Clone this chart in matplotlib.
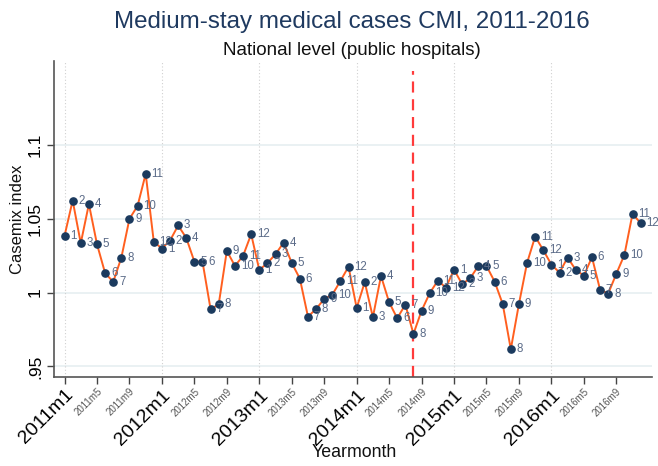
import matplotlib
matplotlib.use("Agg")
import matplotlib.pyplot as plt
import numpy as np

plt.rcParams['font.family'] = ['Liberation Sans', 'DejaVu Sans']

# Monthly CMI values, 2011m1 .. 2016m12
cmi_2011 = [1.0385, 1.0624, 1.0335, 1.0600, 1.0328, 1.0132, 1.0073, 1.0237, 1.0500, 1.0588, 1.0805, 1.0344]
cmi_2012 = [1.0299, 1.0353, 1.0455, 1.0371, 1.0210, 1.0210, 0.9887, 0.9921, 1.0283, 1.0181, 1.0249, 1.0396]
cmi_2013 = [1.0154, 1.0200, 1.0260, 1.0339, 1.0201, 1.0095, 0.9837, 0.9889, 0.9957, 0.9986, 1.0079, 1.0176]
cmi_2014 = [0.9896, 1.0071, 0.9833, 1.0113, 0.9935, 0.9826, 0.9919, 0.9720, 0.9877, 0.9996, 1.0081, 1.0034]
cmi_2015 = [1.0156, 1.0057, 1.0098, 1.0181, 1.0181, 1.0075, 0.9923, 0.9616, 0.9923, 1.0201, 1.0380, 1.0288]
cmi_2016 = [1.0190, 1.0136, 1.0238, 1.0154, 1.0115, 1.0240, 1.0020, 0.9993, 1.0127, 1.0256, 1.0534, 1.0471]
years = [2011, 2012, 2013, 2014, 2015, 2016]
months = list(range(1, 13))

values = cmi_2011 + cmi_2012 + cmi_2013 + cmi_2014 + cmi_2015 + cmi_2016
month_labels = [str(m) for y in years for m in months]
x = np.arange(len(values))

major_labels = ["2011m1", "2012m1", "2013m1", "2014m1", "2015m1", "2016m1"]
minor_labels = ["2011m5", "2011m9", "2012m5", "2012m9", "2013m5", "2013m9",
                "2014m5", "2014m9", "2015m5", "2015m9", "2016m5", "2016m9"]
ytick_vals = [0.95, 1.0, 1.05, 1.1]
ytick_labels = [".95", "1", "1.05", "1.1"]
reform_month = 43  # 2014m8

fig = plt.figure(figsize=(6.58, 4.66), dpi=100)
ax = fig.add_axes([54/658, 1-376.7/466, (652-54)/658, (376.7-61)/466])

ax.set_xlim(-1.3, 72.4)
ax.set_ylim(0.943, 1.157)

# gridlines
for yv in ytick_vals:
    ax.axhline(yv, color='#e6eff1', lw=1.2, zorder=0)
for xi in range(0, 72, 12):
    ax.axvline(xi, color='#d0d0d0', lw=0.8, ls=(0, (1, 2)), zorder=0)

ax.plot(x, values, color='#ff5f1f', lw=1.4, zorder=2)
ax.plot(x, values, 'o', color='#1b3a5e', ms=5.2, zorder=3)
for xi, yi, lab in zip(x, values, month_labels):
    ax.annotate(lab, (xi, yi), xytext=(4.2, 0), textcoords='offset points',
                ha='left', va='center', fontsize=8.3, color='#5b6b88', zorder=4)

ax.vlines(reform_month, 0.943, 1.1505, colors='#ff3b3b', linestyles=(0, (5, 3)), lw=1.6, zorder=1)

ax.set_yticks(ytick_vals)
ax.set_yticklabels(ytick_labels, rotation=90, va='center', fontsize=12.5)
ax.tick_params(axis='y', length=5, width=1, color='#444444', pad=3)

major_pos = [i for i in range(0, 72, 12)]
minor_pos = [i for i in range(72) if i % 12 in (4, 8)]
ax.set_xticks(major_pos)
ax.set_xticklabels(major_labels, rotation=45, ha='right', rotation_mode='anchor', fontsize=14)
ax.set_xticks(minor_pos, minor=True)
ax.set_xticklabels(minor_labels, minor=True, rotation=45, ha='right', rotation_mode='anchor',
                   fontsize=7, color='#555555')
ax.tick_params(axis='x', which='both', length=5, width=1, color='#444444', pad=2)

for s in ['top', 'right']:
    ax.spines[s].set_visible(False)
for s in ['left', 'bottom']:
    ax.spines[s].set_color('#555555')
    ax.spines[s].set_linewidth(1.2)

fig.text(0.535, 0.939, "Medium-stay medical cases CMI, 2011-2016", ha='center', va='baseline',
         fontsize=17.4, color='#1f3a60')
fig.text(0.535, 0.883, "National level (public hospitals)", ha='center', va='baseline',
         fontsize=13.5, color='#111111')
fig.text(0.538, 0.030, "Yearmonth", ha='center', va='center', fontsize=12.8, color='#111111')
fig.text(18/658, 0.53, "Casemix index", ha='center', va='center', rotation=90,
         fontsize=12, color='#111111')

fig.savefig("out.png", dpi=100)
